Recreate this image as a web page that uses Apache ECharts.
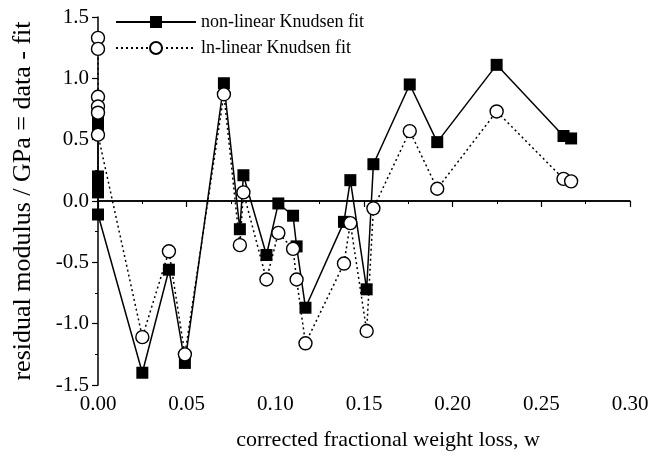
<!DOCTYPE html>
<html>
<head>
<meta charset="utf-8">
<script src="https://cdn.jsdelivr.net/npm/echarts@6.0.0/dist/echarts.min.js"></script>
<style>
  html, body { margin: 0; padding: 0; background: #fff; }
  #chart { width: 664px; height: 461px; }
</style>
</head>
<body>
<div id="chart"></div>
<script>
// corrected fractional weight loss (shared by both fits)
const weightLoss = [0, 0, 0, 0, 0, 0, 0.025, 0.040, 0.049, 0.071, 0.080, 0.082, 0.095, 0.1017,
  0.110, 0.112, 0.117, 0.1387, 0.1423, 0.1515, 0.1553, 0.1758, 0.1913, 0.2248, 0.2625, 0.2668]
// residual modulus, GPa
const nonLinear = [0.64, 0.60, 0.20, 0.13, 0.07, -0.11, -1.40, -0.56, -1.32, 0.96, -0.23, 0.21, -0.44, -0.02,
  -0.12, -0.37, -0.87, -0.17, 0.17, -0.72, 0.30, 0.95, 0.48, 1.11, 0.53, 0.51]
const lnLinear = [1.33, 1.24, 0.85, 0.77, 0.72, 0.54, -1.11, -0.41, -1.25, 0.87, -0.36, 0.07, -0.64, -0.26,
  -0.39, -0.64, -1.16, -0.51, -0.18, -1.06, -0.06, 0.57, 0.10, 0.73, 0.18, 0.16]
const seriesNames = ['non-linear Knudsen fit', 'ln-linear Knudsen fit']

const font = 'Liberation Serif'
const pairs = (ys) => weightLoss.map((w, i) => [w, ys[i]])

const chart = echarts.init(document.getElementById('chart'))
chart.setOption({
  animation: false,
  grid: { left: 98, right: 34, top: 17, bottom: 76 },
  legend: {
    orient: 'vertical',
    left: 110,
    top: 8,
    itemWidth: 80,
    itemHeight: 15,
    itemGap: 8,
    textStyle: { fontFamily: font, fontSize: 18, color: '#000' },
    data: seriesNames
  },
  xAxis: {
    type: 'value',
    min: 0,
    max: 0.3,
    interval: 0.05,
    name: 'corrected fractional weight loss, w',
    nameLocation: 'middle',
    nameGap: 44,
    nameTextStyle: { fontFamily: font, fontSize: 22, color: '#000', padding: [0, 0, 0, 48] },
    axisLine: { lineStyle: { color: '#000', width: 1.5 } },
    axisTick: { inside: false, length: 6, lineStyle: { color: '#000', width: 1.2 } },
    minorTick: { show: true, splitNumber: 2, length: 3, lineStyle: { color: '#000', width: 1 } },
    axisLabel: { fontFamily: font, fontSize: 21, color: '#000', margin: 9, formatter: (v) => v.toFixed(2) },
    splitLine: { show: false }
  },
  yAxis: {
    type: 'value',
    min: -1.5,
    max: 1.5,
    interval: 0.5,
    name: 'residual modulus / GPa = data - fit',
    nameLocation: 'middle',
    nameGap: 62,
    nameTextStyle: { fontFamily: font, fontSize: 26, color: '#000' },
    axisLine: { lineStyle: { color: '#000', width: 1.5 } },
    axisTick: { inside: false, length: 6, lineStyle: { color: '#000', width: 1.2 } },
    minorTick: { show: true, splitNumber: 2, length: 3, lineStyle: { color: '#000', width: 1 } },
    axisLabel: { fontFamily: font, fontSize: 21, color: '#000', margin: 9, formatter: (v) => v.toFixed(1) },
    splitLine: { show: false }
  },
  series: [
    {
      name: seriesNames[0],
      type: 'line',
      data: pairs(nonLinear),
      symbol: 'rect',
      symbolSize: 12,
      itemStyle: { color: '#000' },
      lineStyle: { color: '#000', width: 1.5, type: 'solid' },
      markLine: {
        silent: true,
        symbol: ['none', 'none'],
        label: { show: false },
        lineStyle: { color: '#000', width: 1.5, type: 'solid' },
        data: [{ yAxis: 0 }]
      },
      z: 2
    },
    {
      name: seriesNames[1],
      type: 'line',
      data: pairs(lnLinear),
      symbol: 'circle',
      symbolSize: 13,
      itemStyle: { color: '#fff', borderColor: '#000', borderWidth: 1.4 },
      lineStyle: { color: '#000', width: 1.5, type: [2, 3] },
      z: 3
    }
  ]
})
</script>
</body>
</html>
